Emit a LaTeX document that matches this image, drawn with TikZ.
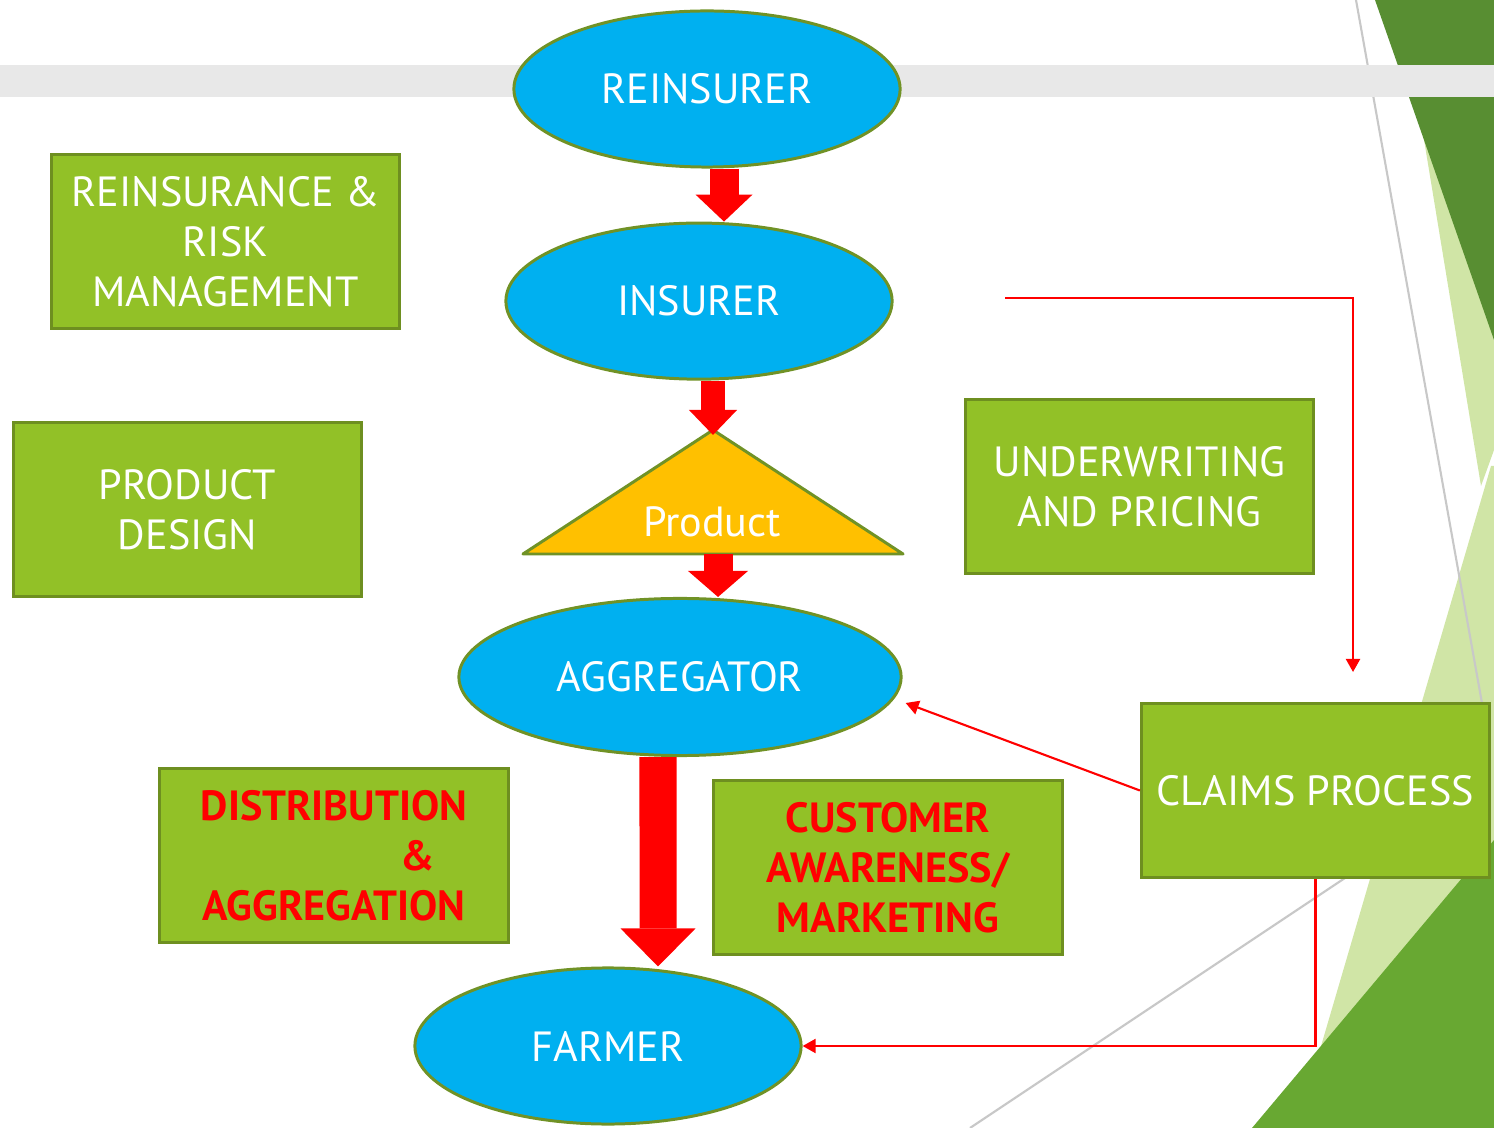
\documentclass[tikz,border=0pt]{standalone}
\usepackage{fontspec}
\setmainfont{PT Sans}
\usetikzlibrary{arrows.meta,calc,positioning,shapes.geometric}

\definecolor{skyblue}{RGB}{0,176,240}
\definecolor{edgegreen}{RGB}{112,146,38}
\definecolor{boxgreen}{RGB}{146,193,39}
\definecolor{boxedge}{RGB}{110,143,32}
\definecolor{prodyellow}{RGB}{255,192,0}
\definecolor{bandgrey}{RGB}{232,232,232}
\definecolor{facetdark}{RGB}{88,142,50}
\definecolor{facetmid}{RGB}{104,168,50}
\definecolor{facetlight}{RGB}{208,229,166}
\definecolor{lineshade}{RGB}{200,200,200}

\tikzset{%
	party/.style   = {draw=edgegreen, fill=skyblue, ellipse, line width=0.85pt, inner sep=0pt, minimum width=3.86cm, minimum height=1.56cm, text=white, font=\fontsize{12}{14.2}\selectfont}, % actors
	task/.style    = {draw=boxedge, fill=boxgreen, rectangle, line width=0.85pt, minimum width=3.48cm, minimum height=1.74cm, align=center, text=white, font=\fontsize{12}{14.2}\selectfont}, % activities
	redtask/.style = {task, text=red, font=\fontsize{12}{14.2}\selectfont\bfseries},
	flow/.style n args = {3}{red, line width=#1, -{Triangle[width=#2, length=#3, line width=0pt]}}, % block arrows
	link/.style    = {red, line width=0.6pt, -{Triangle[width=0.14cm, length=0.13cm]}},
}

\begin{document}
\begin{tikzpicture}[x=0.01cm,y=-0.01cm]
	\useasboundingbox (0,0) rectangle (1494,1128);

	% backdrop
	\begin{scope}
		\clip (0,0) rectangle (1494,1128);
		\fill[facetlight] (1401,0) -- (1494,0) -- (1494,450) -- (1481,486) -- cycle;
		\fill[facetlight] (1491,466) -- (1494,466) -- (1494,1128) -- (1297,1128) -- cycle;
		\fill[facetdark] (1375,0) -- (1494,0) -- (1494,340) -- cycle;
		\fill[facetmid] (1252,1128) -- (1494,840) -- (1494,1128) -- cycle;
		\draw[lineshade, line width=0.6pt] (1356,0) -- (1485,720);
		\draw[lineshade, line width=0.6pt] (970,1128) -- (1345,878);
		\fill[bandgrey] (0,65) rectangle (1494,97);
	\end{scope}

	\node [party] (reins) at (707,89) {REINSURER};
	\node [party] (ins) [below of=reins, node distance=2.12cm, xshift=-0.08cm] {INSURER};
	\node [party, minimum width=4.42cm, minimum height=1.57cm] (agg) at (680,677) {AGGREGATOR};
	\node [party] (farmer) at (608,1046) {FARMER};

	% product triangle
	\coordinate (apex) at (713,430);
	\coordinate (baseL) at (523,554);
	\coordinate (baseR) at (903,554);
	\coordinate (basemid) at (718,554);
	\draw[edgegreen, fill=prodyellow, line width=0.85pt, line join=round] (apex) -- (baseR) -- (baseL) -- cycle;
	\node [text=white, font=\fontsize{12}{14.2}\selectfont] (prod) at (712,522) {Product};

	\node [task] (reinsrisk) at (225.5,241.5) {REINSURANCE \&\\RISK\\MANAGEMENT};
	\node [task] (design) at (187.5,509.5) {PRODUCT\\DESIGN};
	\node [task] (pricing) at (1139.5,486.5) {UNDERWRITING\\AND PRICING};
	\node [task] (claims) at (1315.5,790.5) {CLAIMS PROCESS};
	\node [redtask] (distrib) at (334,855.5) {DISTRIBUTION\\\hspace*{1.68cm}\&\\AGGREGATION};
	\node [redtask] (aware) at (888,867.5) {CUSTOMER\\AWARENESS/\\MARKETING};

	\draw[flow={0.29cm}{0.57cm}{0.27cm}] ([xshift=0.17cm]reins.south) -- ([xshift=0.25cm]ins.north);
	\draw[flow={0.24cm}{0.48cm}{0.25cm}] (ins.south -| apex) -- ([yshift=-0.05cm]apex);
	\draw[flow={0.29cm}{0.60cm}{0.26cm}] (basemid) -- (basemid |- agg.north);
	\draw[flow={0.37cm}{0.75cm}{0.38cm}] ([xshift=-0.22cm]agg.south) -- ([xshift=0.5cm]farmer.north);

	\coordinate (uwstart) at (1005,298);
	\coordinate (claimsin) at (1353,672);
	\draw[link] (uwstart) -| (claimsin);
	\draw[link] (claims.west) -- ([shift={(3,26)}]agg.east);
	\draw[link] (claims.south) |- (farmer.east);
\end{tikzpicture}
\end{document}
